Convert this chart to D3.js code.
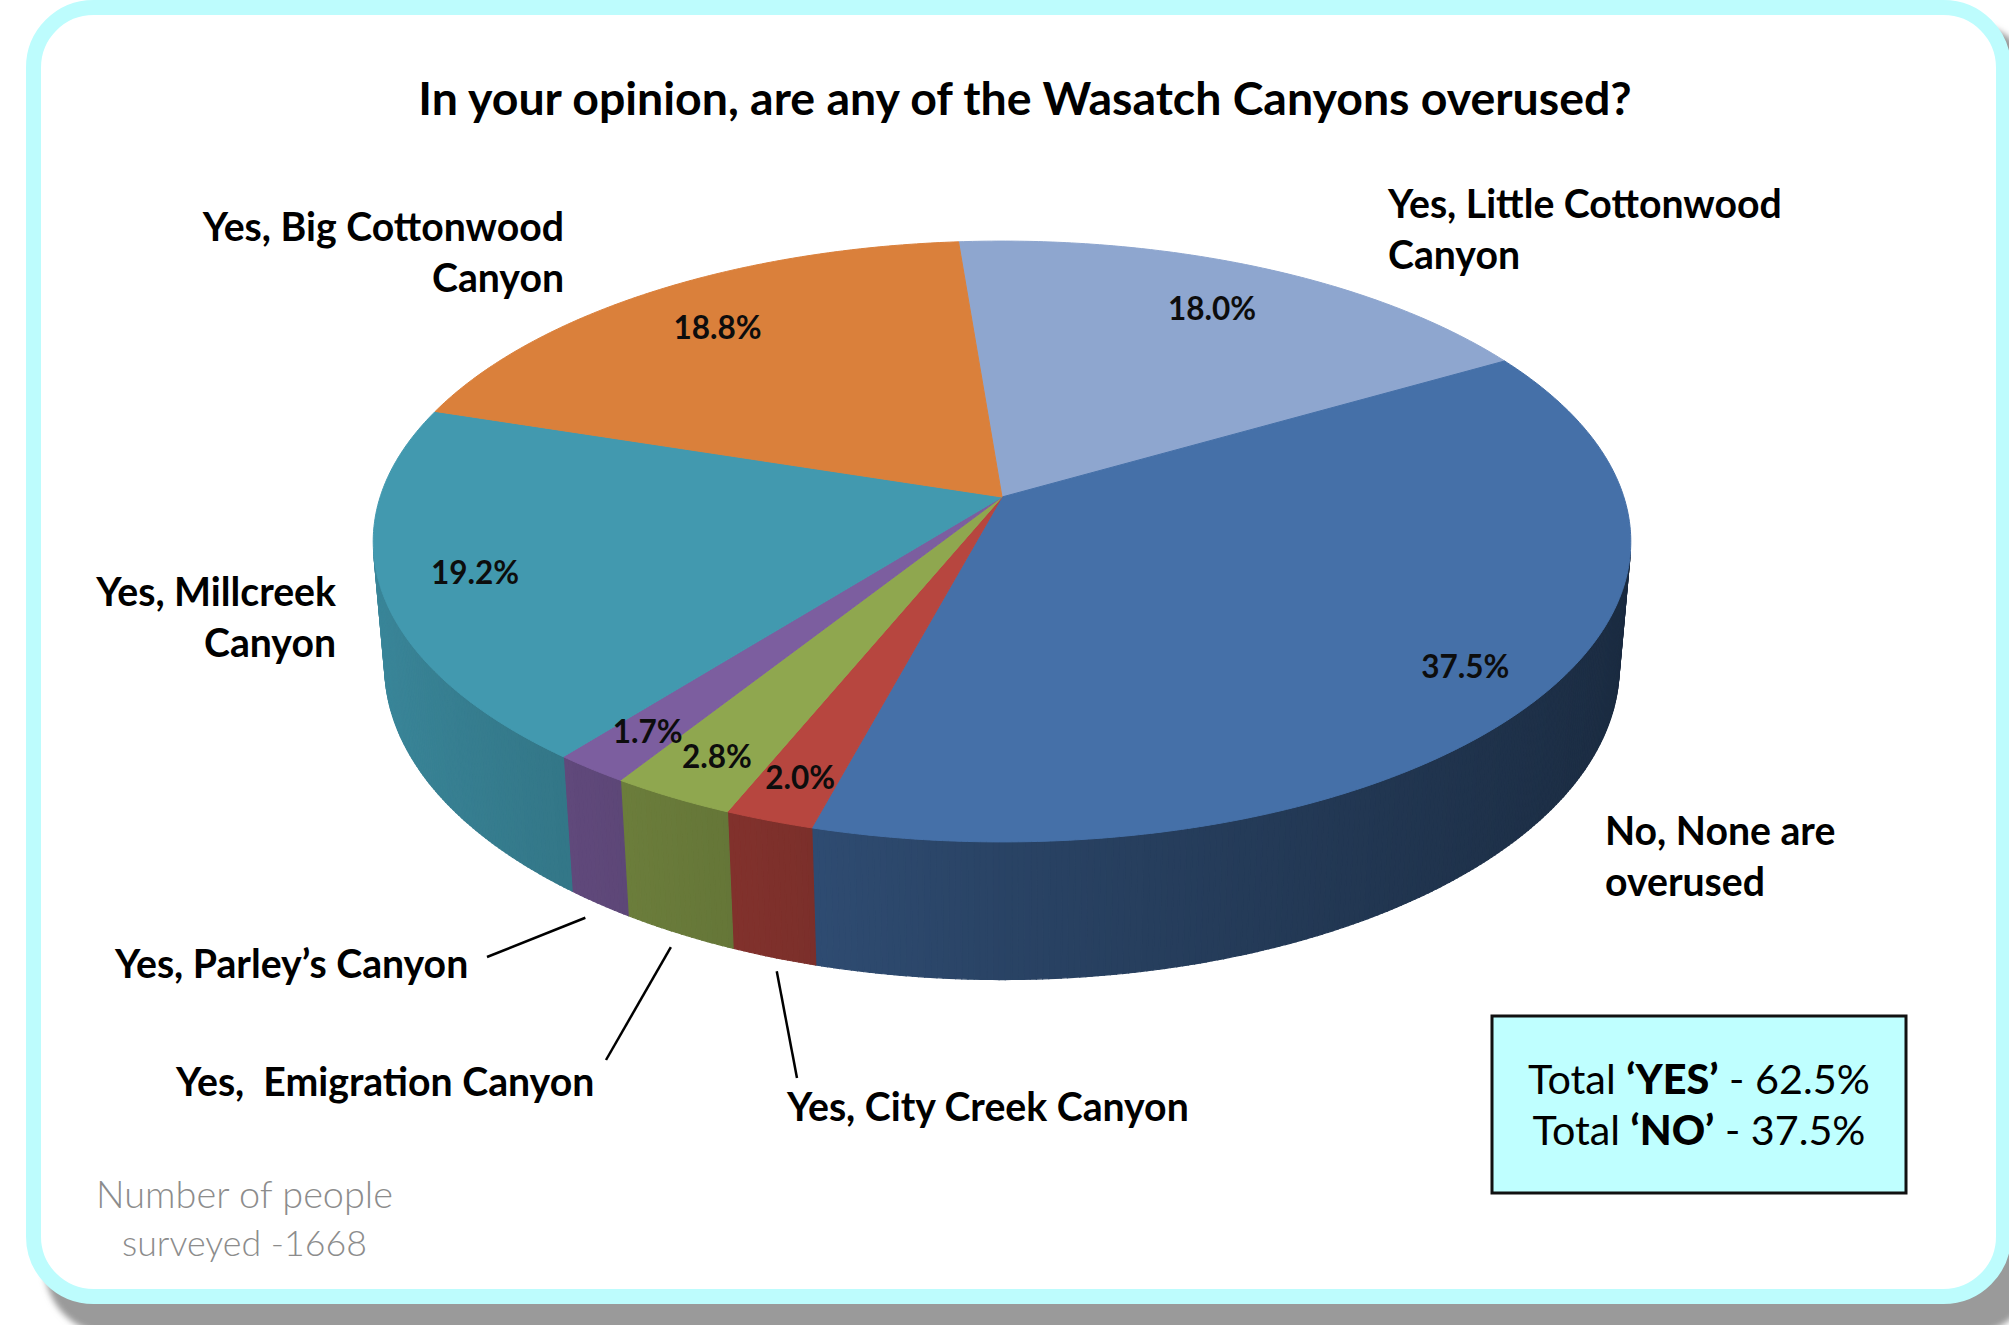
<!DOCTYPE html>
<html><head><meta charset="utf-8">
<script src="https://cdn.jsdelivr.net/npm/d3@7"></script>
<style>body{margin:0;background:#fff;} svg{display:block}</style>
</head><body>
<svg id="chart" width="2009" height="1325"></svg>
<script>
// ---------------- data ----------------
const categories = ["Yes, Little Cottonwood Canyon", "No, None are overused", "Yes, City Creek Canyon",
  "Yes,  Emigration Canyon", "Yes, Parley’s Canyon", "Yes, Millcreek Canyon", "Yes, Big Cottonwood Canyon"];
const values = [18.0, 37.5, 2.0, 2.8, 1.7, 19.2, 18.8];
const colors = ["#8ea6cf", "#4570a8", "#b7463f", "#8fa74f", "#7c5e9f", "#4299af", "#da803b"];
const labelLines = [["Yes, Little Cottonwood", "Canyon"], ["No, None are", "overused"], ["Yes, City Creek Canyon"],
  ["Yes,  Emigration Canyon"], ["Yes, Parley’s Canyon"], ["Yes, Millcreek", "Canyon"], ["Yes, Big Cottonwood", "Canyon"]];
const titleText = "In your opinion, are any of the Wasatch Canyons overused?";
const totalsNames = ["‘YES’", "‘NO’"];
const noteLines = ["Number of people", "surveyed -1668"];

// ---------------- layout ----------------
const labelLayout = [
  {x: 1388, y: 218, anchor: "start"},
  {x: 1605, y: 845, anchor: "start"},
  {x: 787, y: 1121, anchor: "start", leader: [797, 1078], dx: 3},
  {x: 176, y: 1096, anchor: "start", leader: [606, 1060], dx: -8},
  {x: 115, y: 978, anchor: "start", leader: [487, 957], dx: -14},
  {x: 336, y: 606, anchor: "end"},
  {x: 564, y: 241, anchor: "end"}
];

const svg = d3.select("#chart");
const defs = svg.append("defs");
defs.append("filter").attr("id", "blur").attr("x", "-5%").attr("y", "-5%").attr("width", "110%").attr("height", "110%")
  .append("feGaussianBlur").attr("stdDeviation", 3);

// frame + shadow
svg.append("rect").attr("x", 45).attr("y", 24).attr("width", 1990).attr("height", 1310).attr("rx", 66)
  .attr("fill", "#9a9a9a").attr("filter", "url(#blur)");
svg.append("rect").attr("x", 33.5).attr("y", 7.5).attr("width", 1970).attr("height", 1289).attr("rx", 60)
  .attr("fill", "#fff").attr("stroke", "#bdfcfd").attr("stroke-width", 15);

// ---------------- 3D projection ----------------
const cx = 1002, cy = 497, f = 3700, D = 5.95, h = 0.23;
const phi = Math.asin(0.4725), sp = Math.sin(phi), cp = Math.cos(phi);
function proj(r, t, Y) {
  const X = r * Math.sin(t), Z = r * Math.cos(t);
  const yc = Y * cp + Z * sp, zc = D + Z * cp - Y * sp;
  return [cx + f * X / zc, cy - f * yc / zc];
}
const start = -4.6 * Math.PI / 180;
const arcs = d3.pie().sort(null).value(d => d).startAngle(start).endAngle(start + 2 * Math.PI)(values);

function shade(c, t) {
  const s = Math.sin(t);
  const k = s < 0 ? 0.6 + 0.28 * (-s) : 0.6 - 0.22 * s;
  const col = d3.rgb(c);
  return d3.rgb(col.r * k, col.g * k, col.b * k).formatHex();
}

const line = d3.line();
const gWall = svg.append("g");
const tVis = Math.acos(-1 / (D * cp)) - 0.01;
const tVis2 = 2 * Math.PI - tVis;
const step = Math.PI / 360;
arcs.forEach((a, i) => {
  const a0 = a.startAngle, a1 = a.endAngle;
  const segs = [];
  for (let k = -1; k <= 1; k++) {
    const s0 = Math.max(a0 + k * 2 * Math.PI, tVis), s1 = Math.min(a1 + k * 2 * Math.PI, tVis2);
    if (s1 > s0) segs.push([s0, s1]);
  }
  segs.forEach(([s0, s1]) => {
    const n = Math.max(1, Math.ceil((s1 - s0) / step));
    for (let j = 0; j < n; j++) {
      const t0 = s0 + (s1 - s0) * j / n, t1 = s0 + (s1 - s0) * (j + 1) / n;
      const pts = [proj(1, t0, 0), proj(1, t1, 0), proj(1, t1, -h), proj(1, t0, -h)];
      const col = shade(colors[i], (t0 + t1) / 2);
      gWall.append("path").attr("d", line(pts) + "Z").attr("fill", col).attr("stroke", col).attr("stroke-width", 1.2);
    }
  });
});

// top face
const gTop = svg.append("g");
arcs.forEach((a, i) => {
  const n = Math.max(4, Math.ceil((a.endAngle - a.startAngle) / step));
  const pts = [proj(0, 0, 0)];
  for (let j = 0; j <= n; j++) pts.push(proj(1, a.startAngle + (a.endAngle - a.startAngle) * j / n, 0));
  gTop.append("path").attr("d", line(pts) + "Z").attr("fill", colors[i]).attr("stroke", colors[i]).attr("stroke-width", 1);
});

// percent labels
arcs.forEach((a, i) => {
  const mid = (a.startAngle + a.endAngle) / 2;
  const r = 0.84 - 0.045 * Math.cos(mid);
  const p = proj(r, mid, 0);
  svg.append("text").attr("x", p[0]).attr("y", p[1]).attr("dy", "0.36em").attr("text-anchor", "middle")
    .attr("font-family", "Lato, 'Open Sans', sans-serif").attr("font-weight", 700).attr("font-size", 31.5)
    .attr("fill", "#0d0d0d").text(d3.format(".1f")(values[i]) + "%");
});

// category labels + leaders
arcs.forEach((a, i) => {
  const L = labelLayout[i];
  const t = svg.append("text").attr("x", L.x).attr("y", L.y).attr("text-anchor", L.anchor)
    .attr("font-family", "Lato, 'Open Sans', sans-serif").attr("font-weight", 700).attr("font-size", 39.2)
    .attr("fill", "#000").style("white-space", "pre");
  labelLines[i].forEach((s, j) => t.append("tspan").attr("x", L.x).attr("dy", j === 0 ? 0 : 51).text(s));
  if (L.leader) {
    const mid = (a.startAngle + a.endAngle) / 2;
    const p = proj(1, mid, -h);
    svg.append("line").attr("x1", L.leader[0]).attr("y1", L.leader[1]).attr("x2", p[0] + L.dx).attr("y2", p[1] + 14)
      .attr("stroke", "#000").attr("stroke-width", 2.5);
  }
});

function fit(sel, target) {
  const w = sel.node().getComputedTextLength();
  const fs = parseFloat(sel.attr("font-size"));
  sel.attr("font-size", fs * target / w);
}

// title
const title = svg.append("text").attr("x", 1025).attr("y", 115).attr("text-anchor", "middle")
  .attr("font-family", "Lato, 'Open Sans', sans-serif").attr("font-weight", 700).attr("font-size", 42)
  .attr("fill", "#000").text(titleText);
fit(title, 1214);

// totals box
const totYes = d3.sum(values.filter((v, i) => categories[i].startsWith("Yes")));
const totNo = d3.sum(values.filter((v, i) => categories[i].startsWith("No")));
const totals = [totYes, totNo];
svg.append("rect").attr("x", 1492).attr("y", 1016).attr("width", 414).attr("height", 177)
  .attr("fill", "#bfffff").attr("stroke", "#111").attr("stroke-width", 3);
const totTargets = [342, 333];
totalsNames.forEach((nm, i) => {
  const t = svg.append("text").attr("x", 1699).attr("y", 1094 + 51 * i).attr("text-anchor", "middle")
    .attr("font-family", "Lato, 'Open Sans', sans-serif").attr("font-size", 40).attr("fill", "#000");
  t.append("tspan").text("Total ");
  t.append("tspan").attr("font-weight", 900).text(nm);
  t.append("tspan").text(" - " + d3.format(".1f")(totals[i]) + "%");
  fit(t, totTargets[i]);
});

// note
noteLines.forEach((s, i) => {
  const t = svg.append("text").attr("x", 244.5).attr("y", 1208 + 48 * i).attr("text-anchor", "middle")
    .attr("font-family", "Lato, 'Open Sans', sans-serif").attr("font-weight", 300).attr("font-size", 36)
    .attr("fill", "#8c8c8c").text(s);
  fit(t, i === 0 ? 297 : 245);
});
</script>
</body></html>
